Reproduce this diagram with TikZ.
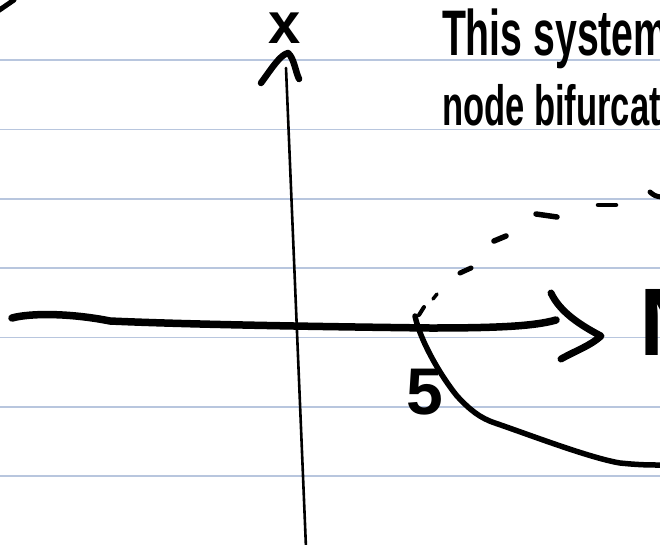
\documentclass[tikz,border=0pt]{standalone}
\usepackage{fontspec}
\setmainfont{Liberation Sans}
\definecolor{ruleblue}{RGB}{184,198,222}
\begin{document}
\begin{tikzpicture}[x=1pt,y=-1pt,
  ink/.style={line width=#1, line cap=round, line join=round, draw=black},
  ink/.default=5pt,
  ruleline/.style={line width=1.3pt, draw=ruleblue},
  hand/.style={inner sep=0pt, outer sep=0pt, font=\bfseries}]
\useasboundingbox (0,0) rectangle (660,544);
\clip (0,0) rectangle (660,544);
% ruled paper lines
\foreach \yy in {60,129.5,199,268,337.5,407,476}
  \draw[ruleline] (0,\yy) -- (660,\yy);
% stray stroke top left
\coordinate (tl1) at (-2,11);
\coordinate (tl2) at (14,0);
\draw[ink=5pt] (tl1) -- (tl2);
% vertical axis
\coordinate (vtop) at (286,68);
\coordinate (vbot) at (306,548);
\draw[ink=2.6pt] (vtop) -- (vbot);
\coordinate (cl) at (261,83);
\coordinate (cp) at (288,53);
\coordinate (cr) at (299,79);
\draw[ink=6.5pt] (cl) .. controls (272,68) and (280,55) .. (cp) .. controls (294,58) and (295,70) .. (cr);
% x label
\node[hand, anchor=base west, font=\bfseries\fontsize{58}{60}\selectfont] (xlab) at (268,43) {x};
% horizontal axis
\coordinate (hleft) at (12,318);
\coordinate (hright) at (556,320);
\draw[ink=7.5pt] (hleft) .. controls (30,313) and (70,313) .. (110,321)
  .. controls (200,325) and (350,327) .. (430,328)
  .. controls (500,328) and (535,326) .. (hright);
% arrowhead
\coordinate (ah1) at (551,293);
\coordinate (ahtip) at (601,336);
\coordinate (ah2) at (561,359);
\draw[ink=7pt] (ah1) .. controls (560,312) and (580,325) .. (ahtip) .. controls (590,346) and (575,351) .. (ah2);
% N label (cut at edge)
\node[hand, anchor=base west, font=\bfseries\fontsize{96}{100}\selectfont] (nlab) at (639,355) {N};
% dashed upper branch
\draw[ink=4pt] (419,315) -- (424,307);
\draw[ink=3.5pt] (433,299) -- (437,294);
\draw[ink=5pt] (460,273) -- (471,268);
\draw[ink=5.5pt] (494,241) -- (506,236);
\draw[ink=5.5pt] (536,214) -- (557,217);
\draw[ink=4.5pt] (598,205) -- (616,205);
\draw[ink=5pt] (650,192) .. controls (653,195) and (657,197) .. (662,197);
% solid lower branch
\coordinate (lb0) at (415,316);
\coordinate (lb1) at (660,465);
\draw[ink=5.5pt] (lb0) .. controls (420,340) and (440,375) .. (457,396)
  .. controls (470,410) and (480,418) .. (495,423)
  .. controls (530,435) and (590,458) .. (620,463)
  .. controls (640,465) and (650,465) .. (lb1);
% 5 label
\node[hand, anchor=base west, font=\bfseries\fontsize{66}{70}\selectfont] (five) at (406,414) {5};
% text
\node[hand, anchor=base west] (t1) at (442,55)
  {\scalebox{0.7}[1.15]{\fontsize{56}{60}\selectfont This system}};
\node[hand, anchor=base west] (t2) at (442,125)
  {\scalebox{0.64}[1.05]{\fontsize{54}{60}\selectfont node bifurcation}};
\end{tikzpicture}
\end{document}
